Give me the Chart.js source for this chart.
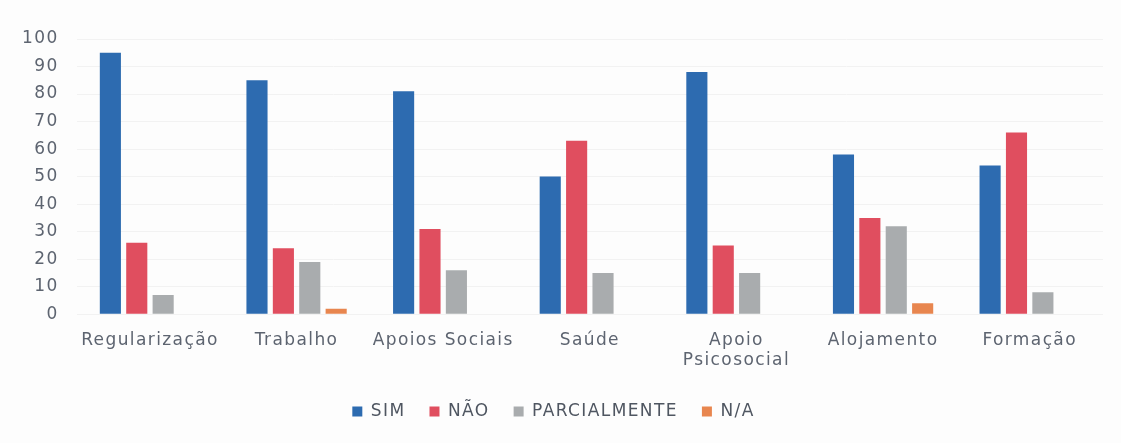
<!DOCTYPE html>
<html>
<head>
<meta charset="utf-8">
<script src="https://cdn.jsdelivr.net/npm/chart.js@4"></script>
<style>
  html, body { margin: 0; padding: 0; background: #fdfdfd; }
  #wrap { width: 1121px; height: 443px; position: relative; }
</style>
</head>
<body>
<div id="wrap"><canvas id="c"></canvas></div>
<script>
const categories = ["Regularização", "Trabalho", "Apoios Sociais", "Saúde", ["Apoio", "Psicosocial"], "Alojamento", "Formação"];
const seriesNames = ["SIM", "NÃO", "PARCIALMENTE", "N/A"];
const sim = [95, 85, 81, 50, 88, 58, 54];
const nao = [26, 24, 31, 63, 25, 35, 66];
const parcialmente = [7, 19, 16, 15, 15, 32, 8];
const na = [0, 2, 0, 0, 0, 4, 0];
const colors = ["#2d6bb0", "#e04e5f", "#a9acae", "#e8864f"];
const yTicks = [0, 10, 20, 30, 40, 50, 60, 70, 80, 90, 100];

const values = [sim, nao, parcialmente, na];
const FONT = "DejaVu Sans";

const spacing = {
  id: "spacing",
  _set(chart) { if ("letterSpacing" in chart.ctx) chart.ctx.letterSpacing = "1.4px"; },
  beforeUpdate(chart) { this._set(chart); },
  beforeLayout(chart) { this._set(chart); },
  beforeDraw(chart) { this._set(chart); }
};

new Chart(document.getElementById("c"), {
  type: "bar",
  plugins: [spacing],
  data: {
    labels: categories,
    datasets: seriesNames.map((n, i) => ({
      label: n,
      data: values[i],
      backgroundColor: colors[i],
      borderWidth: 0,
      categoryPercentage: 0.72,
      barPercentage: 0.8
    }))
  },
  options: {
    responsive: true,
    maintainAspectRatio: false,
    animation: false,
    layout: { padding: { left: 4, right: 18, top: 39, bottom: 13 } },
    plugins: {
      tooltip: { enabled: false },
      legend: {
        position: "bottom",
        labels: {
          boxWidth: 10, boxHeight: 10, padding: 24,
          color: "#4f5661",
          font: { family: FONT, size: 17 }
        }
      }
    },
    scales: {
      x: {
        grid: { display: false },
        border: { display: false },
        ticks: { color: "#5d6470", font: { family: FONT, size: 17 }, maxRotation: 0, autoSkip: false, padding: 8 }
      },
      y: {
        min: 0, max: 100,
        afterBuildTicks: (axis) => { axis.ticks = yTicks.map(v => ({ value: v })); },
        grid: { color: "#f2f2f2", drawTicks: false },
        border: { display: false },
        ticks: { color: "#5d6470", font: { family: FONT, size: 17 }, padding: 18 }
      }
    }
  }
});
</script>
</body>
</html>
